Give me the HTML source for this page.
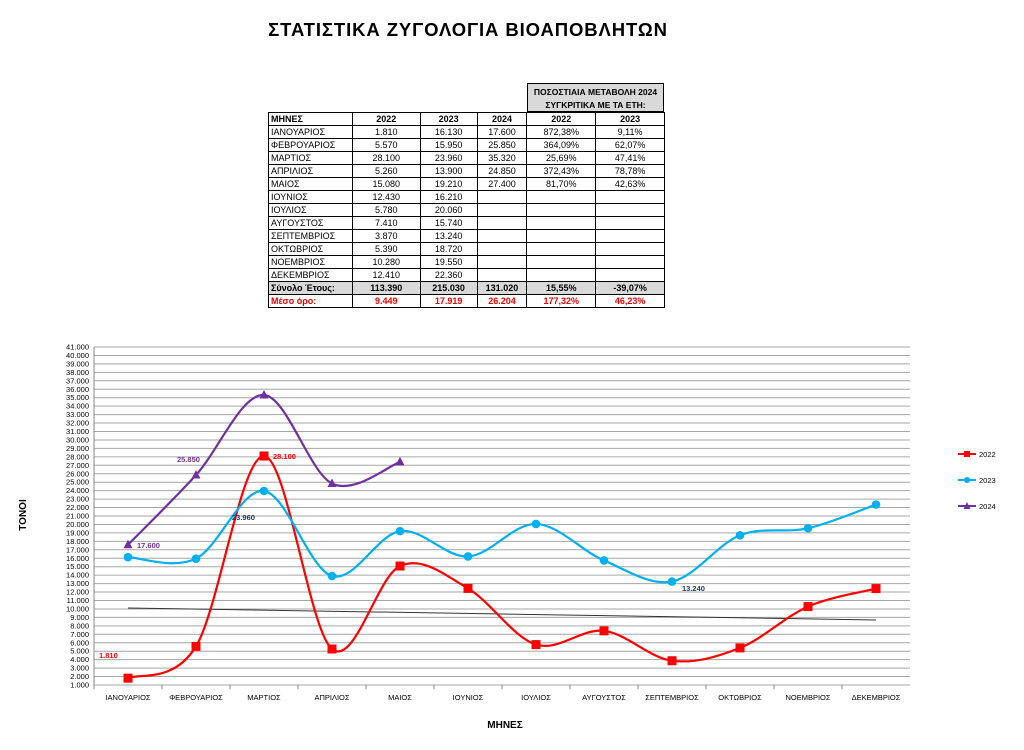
<!DOCTYPE html><html><head><meta charset="utf-8"><style>
body{margin:0;width:1024px;height:750px;background:#fff;font-family:"Liberation Sans",sans-serif;position:relative;overflow:hidden}
.title{position:absolute;left:0;width:936px;top:19px;text-align:center;font-weight:bold;font-size:18.5px;letter-spacing:0.9px}
table{position:absolute;border-collapse:collapse;font-size:9px}
td{border:1px solid #000;height:12px;padding:0 2px;text-align:center;line-height:11px}
td:first-child{text-align:left}
.b td{font-weight:bold}
.g td{background:#d9d9d9;font-weight:bold}
.r td{color:#e00;font-weight:bold}
</style></head><body>
<div class="title">ΣΤΑΤΙΣΤΙΚΑ ΖΥΓΟΛΟΓΙΑ ΒΙΟΑΠΟΒΛΗΤΩΝ</div>
<div style="position:absolute;left:527px;top:83px;width:137px;height:29px;border:1px solid #000;background:#d9d9d9;font-size:8.5px;font-weight:bold;text-align:center;line-height:13px;padding-top:2px;box-sizing:border-box">ΠΟΣΟΣΤΙΑΙΑ ΜΕΤΑΒΟΛΗ 2024<br>ΣΥΓΚΡΙΤΙΚΑ ΜΕ ΤΑ ΕΤΗ:</div>
<table style="left:268px;top:112px;width:397px">
<colgroup><col style="width:84px"><col style="width:68px"><col style="width:57px"><col style="width:50px"><col style="width:69px"><col style="width:69px"></colgroup>
<tr class="b"><td>ΜΗΝΕΣ</td><td>2022</td><td>2023</td><td>2024</td><td>2022</td><td>2023</td></tr>
<tr><td>ΙΑΝΟΥΑΡΙΟΣ</td><td>1.810</td><td>16.130</td><td>17.600</td><td>872,38%</td><td>9,11%</td></tr>
<tr><td>ΦΕΒΡΟΥΑΡΙΟΣ</td><td>5.570</td><td>15.950</td><td>25.850</td><td>364,09%</td><td>62,07%</td></tr>
<tr><td>ΜΑΡΤΙΟΣ</td><td>28.100</td><td>23.960</td><td>35.320</td><td>25,69%</td><td>47,41%</td></tr>
<tr><td>ΑΠΡΙΛΙΟΣ</td><td>5.260</td><td>13.900</td><td>24.850</td><td>372,43%</td><td>78,78%</td></tr>
<tr><td>ΜΑΙΟΣ</td><td>15.080</td><td>19.210</td><td>27.400</td><td>81,70%</td><td>42,63%</td></tr>
<tr><td>ΙΟΥΝΙΟΣ</td><td>12.430</td><td>16.210</td><td></td><td></td><td></td></tr>
<tr><td>ΙΟΥΛΙΟΣ</td><td>5.780</td><td>20.060</td><td></td><td></td><td></td></tr>
<tr><td>ΑΥΓΟΥΣΤΟΣ</td><td>7.410</td><td>15.740</td><td></td><td></td><td></td></tr>
<tr><td>ΣΕΠΤΕΜΒΡΙΟΣ</td><td>3.870</td><td>13.240</td><td></td><td></td><td></td></tr>
<tr><td>ΟΚΤΩΒΡΙΟΣ</td><td>5.390</td><td>18.720</td><td></td><td></td><td></td></tr>
<tr><td>ΝΟΕΜΒΡΙΟΣ</td><td>10.280</td><td>19.550</td><td></td><td></td><td></td></tr>
<tr><td>ΔΕΚΕΜΒΡΙΟΣ</td><td>12.410</td><td>22.360</td><td></td><td></td><td></td></tr>
<tr class="g"><td>Σύνολο Έτους:</td><td>113.390</td><td>215.030</td><td>131.020</td><td>15,55%</td><td>-39,07%</td></tr>
<tr class="r"><td>Μέσο όρο:</td><td>9.449</td><td>17.919</td><td>26.204</td><td>177,32%</td><td>46,23%</td></tr>
</table>
<svg id="s" width="1024" height="750" style="position:absolute;left:0;top:0" font-family="Liberation Sans, sans-serif"></svg>
<script>
const s=document.getElementById('s');let h='';
const Y=v=>685-(v-1000)*338/40000, X=i=>128+68*i;
for(let v=1000;v<=41000;v+=1000){const y=Y(v);h+=`<line x1="94" x2="910" y1="${y}" y2="${y}" stroke="#a6a6a6" stroke-width="1"/>`;
h+=`<text x="89" y="${y+2.5}" font-size="7.5" text-anchor="end">${(v/1000).toFixed(3)}</text>`;}
h+=`<line x1="94" x2="94" y1="347" y2="689" stroke="#888"/>`;
const m=['ΙΑΝΟΥΑΡΙΟΣ','ΦΕΒΡΟΥΑΡΙΟΣ','ΜΑΡΤΙΟΣ','ΑΠΡΙΛΙΟΣ','ΜΑΙΟΣ','ΙΟΥΝΙΟΣ','ΙΟΥΛΙΟΣ','ΑΥΓΟΥΣΤΟΣ','ΣΕΠΤΕΜΒΡΙΟΣ','ΟΚΤΩΒΡΙΟΣ','ΝΟΕΜΒΡΙΟΣ','ΔΕΚΕΜΒΡΙΟΣ'];
m.forEach((t,i)=>{h+=`<text x="${X(i)}" y="700" font-size="7.5" text-anchor="middle">${t}</text>`;h+=`<line x1="${94+68*i}" x2="${94+68*i}" y1="685" y2="689" stroke="#888"/>`});
function path(d){const p=d.map((v,i)=>[X(i),Y(v)]);let r=`M${p[0]}`;
for(let i=0;i<p.length-1;i++){const a=p[i-1]||p[i],b=p[i],c=p[i+1],e=p[i+2]||c;
r+=`C${b[0]+(c[0]-a[0])/6},${b[1]+(c[1]-a[1])/6} ${c[0]-(e[0]-b[0])/6},${c[1]-(e[1]-b[1])/6} ${c[0]},${c[1]}`}return r}
const d22=[1810,5570,28100,5260,15080,12430,5780,7410,3870,5390,10280,12410],
d23=[16130,15950,23960,13900,19210,16210,20060,15740,13240,18720,19550,22360],
d24=[17600,25850,35320,24850,27400];
h+=`<line x1="128" y1="608" x2="876" y2="620" stroke="#333" stroke-width="1"/>`;
h+=`<path d="${path(d22)}" fill="none" stroke="#f00" stroke-width="2.2"/>`;
h+=`<path d="${path(d23)}" fill="none" stroke="#00b0f0" stroke-width="2.2"/>`;
h+=`<path d="${path(d24)}" fill="none" stroke="#7030a0" stroke-width="2.2"/>`;
d22.forEach((v,i)=>h+=`<rect x="${X(i)-4.5}" y="${Y(v)-4.5}" width="9" height="9" fill="#f00"/>`);
d23.forEach((v,i)=>h+=`<circle cx="${X(i)}" cy="${Y(v)}" r="4.3" fill="#00b0f0"/>`);
d24.forEach((v,i)=>{const x=X(i),y=Y(v);h+=`<polygon points="${x},${y-5} ${x-4.5},${y+3.5} ${x+4.5},${y+3.5}" fill="#7030a0"/>`});
const L=(x,y,t,c)=>h+=`<text x="${x}" y="${y}" font-size="7.5" font-weight="bold" fill="${c}">${t}</text>`;
L(99,658,'1.810','#f00');L(273,459,'28.100','#f00');L(177,462,'25.850','#7030a0');L(137,548,'17.600','#7030a0');L(232,520,'23.960','#1f3864');L(682,591,'13.240','#1f3864');
[['2022','#f00','r'],['2023','#00b0f0','c'],['2024','#7030a0','t']].forEach((a,i)=>{const y=454+26*i;
h+=`<line x1="958" x2="976" y1="${y}" y2="${y}" stroke="${a[1]}" stroke-width="2"/>`;
if(a[2]=='r')h+=`<rect x="964" y="${y-3}" width="6" height="6" fill="${a[1]}"/>`;
if(a[2]=='c')h+=`<circle cx="967" cy="${y}" r="3" fill="${a[1]}"/>`;
if(a[2]=='t')h+=`<polygon points="967,${y-4} 963.5,${y+3} 970.5,${y+3}" fill="${a[1]}"/>`;
h+=`<text x="979" y="${y+3}" font-size="7.5">${a[0]}</text>`});
h+=`<text x="26" y="515" font-size="10" font-weight="bold" text-anchor="middle" transform="rotate(-90 26 515)">ΤΟΝΟΙ</text>`;
h+=`<text x="505" y="728" font-size="10" font-weight="bold" text-anchor="middle">ΜΗΝΕΣ</text>`;
s.innerHTML=h;
</script></body></html>
